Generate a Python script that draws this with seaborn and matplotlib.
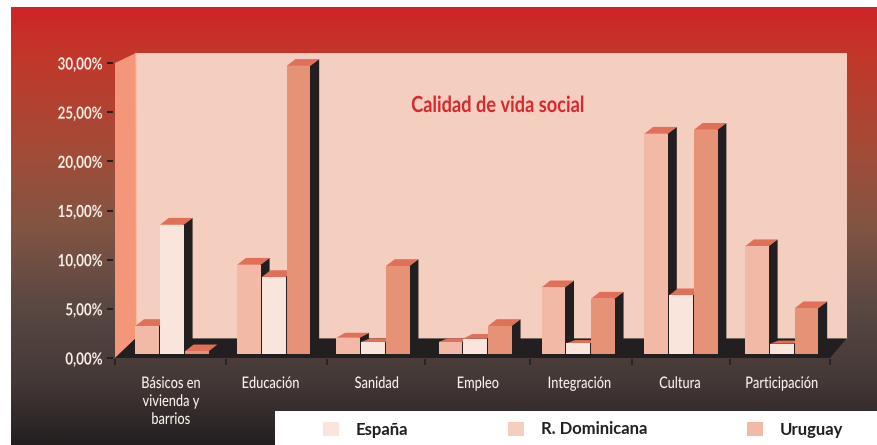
import numpy as np
import pandas as pd
import matplotlib
matplotlib.use("Agg")
import matplotlib.pyplot as plt
import matplotlib.patheffects as pe
from matplotlib.colors import LinearSegmentedColormap
from matplotlib.patches import Patch, Polygon, Rectangle
from matplotlib.transforms import Affine2D
import seaborn as sns

categories = ["Básicos en\nvivienda y\nbarrios", "Educación", "Sanidad", "Empleo",
              "Integración", "Cultura", "Participación"]
serie_a = [2.85, 9.08, 1.66, 1.22, 6.78, 22.4, 10.96]
serie_b = [13.15, 7.83, 1.22, 1.56, 1.09, 5.97, 1.05]
serie_c = [0.27, 29.3, 8.95, 2.85, 5.63, 22.8, 4.65]
legend_labels = ["España", "R. Dominicana", "Uruguay"]
y_ticks = [0, 5, 10, 15, 20, 25, 30]
y_tick_labels = ["0,00%", "5,00%", "10,00%", "15,00%", "20,00%", "25,00%", "30,00%"]

W, H = 878, 445
FONT = ["Lato", "DejaVu Sans"]
sns.set_theme(style="white")
plt.rcParams["font.family"] = FONT


class Condense(pe.AbstractPathEffect):
    """Narrow the drawn glyphs horizontally; no condensed family is installed."""

    def __init__(self, sx, anchor="center"):
        super().__init__()
        self.sx, self.anchor = sx, anchor

    def draw_path(self, renderer, gc, tpath, affine, rgbFace=None):
        e = tpath.get_extents()
        c = {"left": e.x0, "right": e.x1, "center": (e.x0 + e.x1) / 2}[self.anchor]
        a = Affine2D().translate(-c, 0).scale(self.sx, 1).translate(c, 0) + affine
        renderer.draw_path(gc, tpath, a, rgbFace)


fig = plt.figure(figsize=(W / 100, H / 100), dpi=100, facecolor="white")


def px_axes(l, t, r, b, z):
    ax = fig.add_axes([l / W, 1 - b / H, (r - l) / W, (b - t) / H])
    ax.set_zorder(z)
    return ax


# Background and 3D room, in pixel coordinates
ax_bg = px_axes(0, 0, W, H, 0)
ax_bg.axis("off")
cmap = LinearSegmentedColormap.from_list(
    "bg",
    [(0.0, "#CF2528"), (0.11, "#C2372A"), (0.33, "#A24C38"), (0.50, "#825543"),
     (0.68, "#5A4843"), (0.86, "#433836"), (1.0, "#231F20")],
)
ax_bg.imshow(np.linspace(0, 1, 256)[:, None], cmap=cmap, aspect="auto",
             extent=(11, W, H, 7), zorder=0)
ax_bg.set_xlim(0, W)
ax_bg.set_ylim(H, 0)
ax_bg.add_patch(Rectangle((136, 53), 711, 285, fc="#F4CEBF", ec="none", zorder=1))
ax_bg.add_patch(Polygon([(115, 63), (136, 53), (136, 338), (115, 358)], fc="#F4967A", ec="none", zorder=2))
ax_bg.add_patch(Polygon([(115, 358), (136, 338), (847, 338), (830, 358)], fc="#231F20", ec="none", zorder=2))
ax_bg.plot([136, 136.5], [53, 338], color="#F7B9A2", lw=0.8, zorder=2.5)
ax_bg.plot([136, 847], [338, 338], color="#7A6A64", lw=0.7, zorder=2.5)
ax_bg.add_patch(Rectangle((275, 411), W - 275, H - 411, fc="white", ec="none", zorder=3))

handles = [Patch(fc=c, ec="none") for c in ["#FAE5DC", "#F4CEBF", "#F2BAA6"]]
FS = 12
em = FS * 100 / 72
leg = ax_bg.legend(handles, legend_labels, ncol=3, frameon=False, loc="center left",
                   bbox_to_anchor=(323, 429.5), bbox_transform=ax_bg.transData,
                   borderpad=0, borderaxespad=0,
                   handlelength=16 / em, handleheight=16 / em,
                   handletextpad=17 / em, columnspacing=99.5 / em,
                   prop={"family": FONT, "weight": "bold", "size": FS})
for t in leg.get_texts():
    t.set_color("#231F20")

# Axis frame
X_PER = 101.8
X0 = 172
xlim = ((115 - X0) / X_PER, (830 - X0) / X_PER)
ax = px_axes(115, 63, 830, 358, 1)
ax.patch.set_visible(False)
ax.set_xlim(*xlim)
ax.set_ylim(0, 30)
for s in ax.spines.values():
    s.set_visible(False)
ax.spines["left"].set_position(("outward", 1.5))
ax.spines["bottom"].set_position(("outward", 0.7))
ax.set_yticks(y_ticks, y_tick_labels, color="#F8EEE8", fontsize=12, fontweight="bold")
ax.tick_params(axis="y", length=4, width=1.4, color="#231F20", pad=3.5, left=True)
for t in ax.get_yticklabels():
    t.set_path_effects([Condense(0.8, "right")])
ax.set_xticks(np.arange(len(categories)) + np.array([-2, -4, 0.7, 0, 0, -1, -1]) / X_PER,
              categories, color="#F8F0EA", fontsize=11.5, fontweight=500, linespacing=1.36)
ax.tick_params(axis="x", length=0, pad=13)
for t in ax.get_xticklabels():
    t.set_path_effects([Condense(0.8, "center")])
ax.set_xticks((np.array([114, 225, 326, 424, 530, 632, 730, 830]) - X0) / X_PER, minor=True)
ax.tick_params(axis="x", which="minor", length=4.5, width=1.2, color="#231F20", bottom=True)
title = ax.set_title("Calidad de vida social", x=(498 - 115) / 715, y=(358 - 112) / 295, pad=0,
                     color="#D9272E", fontsize=16, fontweight="bold")
title.set_path_effects([Condense(0.82, "center")])

# Bars, lifted onto the floor
df = pd.DataFrame({
    "categoria": categories * 3,
    "serie": sum([[n] * len(categories) for n in legend_labels], []),
    "valor": serie_a + serie_b + serie_c,
})
ax_bars = px_axes(115, 59, 830, 354, 2)
sns.barplot(data=df, x="categoria", y="valor", hue="serie", order=categories, hue_order=legend_labels,
            palette=["#F2BAA6", "#FAE5DC", "#E59277"], width=0.73, gap=0.04, saturation=1,
            errorbar=None, legend=False, linewidth=0, ax=ax_bars)
ax_bars.set_xlim(*xlim)
ax_bars.set_ylim(0, 30)
ax_bars.axis("off")

group_nudge_px = [0, 0, -2.5, -2.2, -1, 0, -1]
dx = 8.7 / X_PER
PX_PER_UNIT = 295 / 30
bars = sorted([p for p in ax_bars.patches if p.get_height() > 0], key=lambda p: p.get_x())
for i, p in enumerate(bars):
    p.set_x(p.get_x() + group_nudge_px[i // 3] / X_PER)
    x0, x1, top = p.get_x(), p.get_x() + p.get_width(), p.get_height()
    h_px = top * PX_PER_UNIT
    # low bars show a shallower top face in the reference's perspective
    dy = (6.8 if (h_px < 5 or h_px >= 20) else 0.3 * h_px) / PX_PER_UNIT
    z = 10 + i
    p.set_zorder(z + 0.5)
    ax_bars.add_patch(Polygon([(x1 - 0.01, 0), (x1 + dx, dy), (x1 + dx, top + dy), (x1 - 0.01, top)],
                              fc="#231F20", ec="none", zorder=z, clip_on=False))
    ax_bars.add_patch(Polygon([(x0, top), (x0 + dx, top + dy), (x1 + dx, top + dy), (x1, top)],
                              fc="#E1705A", ec="none", zorder=z, clip_on=False))

fig.savefig("out.png", dpi=100, facecolor="white")
